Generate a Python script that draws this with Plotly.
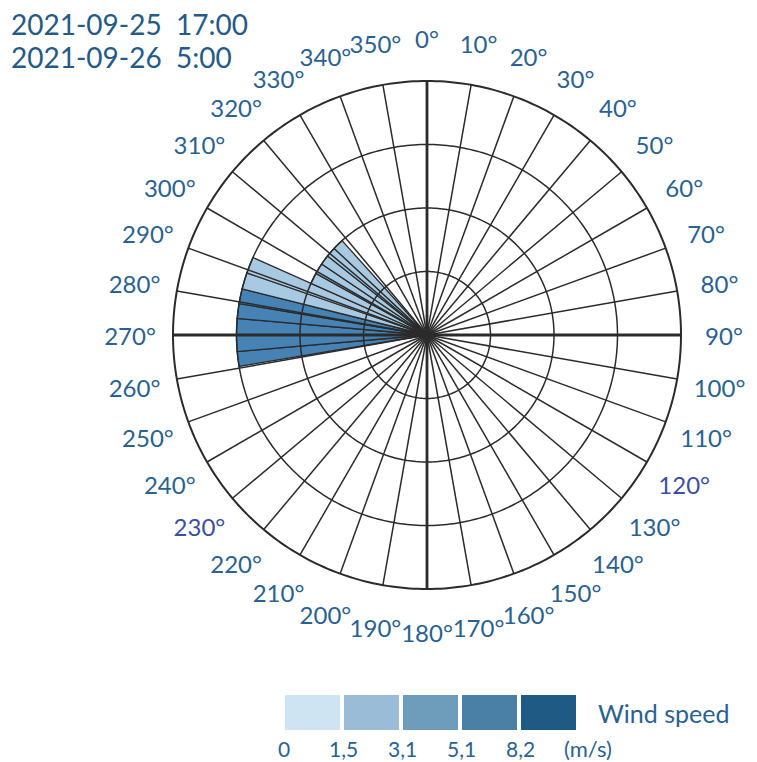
import math
import plotly.graph_objects as go

# Observation period
period_start = "2021-09-25  17:00"
period_end = "2021-09-26  5:00"

# Direction sectors (degrees, clockwise from north) with observed hours and speed class
sector_edges = [260.5, 265, 270, 275, 279.5, 284, 289, 294, 299, 304, 308.5, 313, 318]
sector_hours = [3, 3, 3, 3, 3, 3, 3, 2, 2, 2, 2, 2]
sector_class = [3, 3, 3, 3, 3, 1, 1, 1, 1, 1, 1, 1]

# Wind speed classes (m/s)
speed_bounds = ["0", "1,5", "3,1", "5,1", "8,2"]
class_colors = ["#cfe4f3", "#9bbcd6", "#6d9dbb", "#4b80a6", "#1f5a85"]
bar_colors = {1: "#a7c9e1", 3: "#4682b4"}

# Compass directions and rings
angle_ticks = list(range(0, 360, 10))
highlight_ticks = {120, 230}
rings = [1, 2, 3]
R_RIM = 4

W, H = 757, 762
CX, CY = 427, 335
RIM_PX = 254          # radius of the rim in pixels
PLOT_PX = 320         # radius of the polar domain in pixels
LABEL_PX = 297        # distance of the compass labels from the centre
LABEL_DROP = 4        # small downward nudge of the compass labels
R_RANGE = R_RIM * PLOT_PX / RIM_PX
INK = "#2b2b2b"
TXT = "#2a6190"
HIL = "#3b4ea3"
FONT = "Lato"

theta_mid = [(a + b) / 2 for a, b in zip(sector_edges[:-1], sector_edges[1:])]
widths = [b - a for a, b in zip(sector_edges[:-1], sector_edges[1:])]

# Polar placement of each compass label
label_r, label_t = [], []
for t in angle_ticks:
    a = math.radians(t)
    dx = LABEL_PX * math.sin(a)
    dy = LABEL_PX * math.cos(a) - LABEL_DROP
    label_r.append(math.hypot(dx, dy) * R_RIM / RIM_PX)
    label_t.append(math.degrees(math.atan2(dx, dy)) % 360)

fig = go.Figure()

# Spokes every 10 degrees
spoke_r, spoke_t = [], []
for t in angle_ticks:
    spoke_r += [0, R_RIM, None]
    spoke_t += [t, t, None]
fig.add_trace(go.Scatterpolar(
    r=spoke_r, theta=spoke_t, mode="lines",
    line=dict(color=INK, width=1.5), hoverinfo="skip", showlegend=False,
))

fig.add_trace(go.Barpolar(
    r=sector_hours,
    theta=theta_mid,
    width=widths,
    marker=dict(color=[bar_colors[c] for c in sector_class],
                line=dict(color=INK, width=1.3)),
    hoverinfo="skip",
    showlegend=False,
))

# Rings (drawn above the bars) and rim
ring_theta = list(range(0, 361, 1))
for rr in rings + [R_RIM]:
    fig.add_trace(go.Scatterpolar(
        r=[rr] * len(ring_theta), theta=ring_theta, mode="lines",
        line=dict(color=INK, width=2 if rr == R_RIM else 1.5),
        hoverinfo="skip", showlegend=False,
    ))

# Bold north-south / east-west diameters
for t in (0, 90, 180, 270):
    fig.add_trace(go.Scatterpolar(
        r=[0, R_RIM], theta=[t, t], mode="lines",
        line=dict(color=INK, width=2.8), hoverinfo="skip", showlegend=False,
    ))

# Compass labels centred on their direction, outside the rim
fig.add_trace(go.Scatterpolar(
    r=label_r, theta=label_t,
    mode="text", text=[f"{t}°" for t in angle_ticks],
    textposition="middle center",
    textfont=dict(family=FONT, size=24,
                  color=[HIL if t in highlight_ticks else TXT for t in angle_ticks]),
    cliponaxis=False, hoverinfo="skip", showlegend=False,
))

fig.update_layout(
    width=W, height=H,
    margin=dict(l=0, r=0, t=0, b=0),
    paper_bgcolor="white",
    font=dict(family=FONT, color=TXT),
    polar=dict(
        domain=dict(x=[(CX - PLOT_PX) / W, (CX + PLOT_PX) / W],
                    y=[1 - (CY + PLOT_PX) / H, 1 - (CY - PLOT_PX) / H]),
        bgcolor="rgba(0,0,0,0)",
        angularaxis=dict(
            direction="clockwise", rotation=90,
            showticklabels=False, ticks="", showgrid=False, showline=False,
        ),
        radialaxis=dict(
            range=[0, R_RANGE],
            showticklabels=False, ticks="", showline=False, showgrid=False,
        ),
    ),
)

for txt, yc in ((period_start, 24), (period_end, 57)):
    fig.add_annotation(
        x=9 / W, y=1 - yc / H, xref="paper", yref="paper",
        xanchor="left", yanchor="middle", showarrow=False,
        text=txt, font=dict(family=FONT, size=28, color="#245a86"),
    )

# Wind speed legend
box_x0, box_w, box_gap = 285, 55, 4
box_y0, box_y1 = 695, 730
for i, col in enumerate(class_colors):
    x0 = box_x0 + i * (box_w + box_gap)
    fig.add_shape(type="rect", xref="paper", yref="paper",
                  x0=x0 / W, x1=(x0 + box_w) / W,
                  y0=1 - box_y1 / H, y1=1 - box_y0 / H,
                  fillcolor=col, line=dict(width=0))
for i, lab in enumerate(speed_bounds):
    xc = box_x0 + i * (box_w + box_gap) - 1
    fig.add_annotation(x=xc / W, y=1 - 748 / H, xref="paper", yref="paper",
                       xanchor="center", yanchor="middle", showarrow=False,
                       text=lab, font=dict(family=FONT, size=21, color=TXT))
fig.add_annotation(x=562 / W, y=1 - 748 / H, xref="paper", yref="paper",
                   xanchor="left", yanchor="middle", showarrow=False,
                   text="(m/s)", font=dict(family=FONT, size=22, color=TXT))
fig.add_annotation(x=596 / W, y=1 - 713 / H, xref="paper", yref="paper",
                   xanchor="left", yanchor="middle", showarrow=False,
                   text="Wind speed", font=dict(family=FONT, size=25, color=TXT))

fig.write_html("out.html")
